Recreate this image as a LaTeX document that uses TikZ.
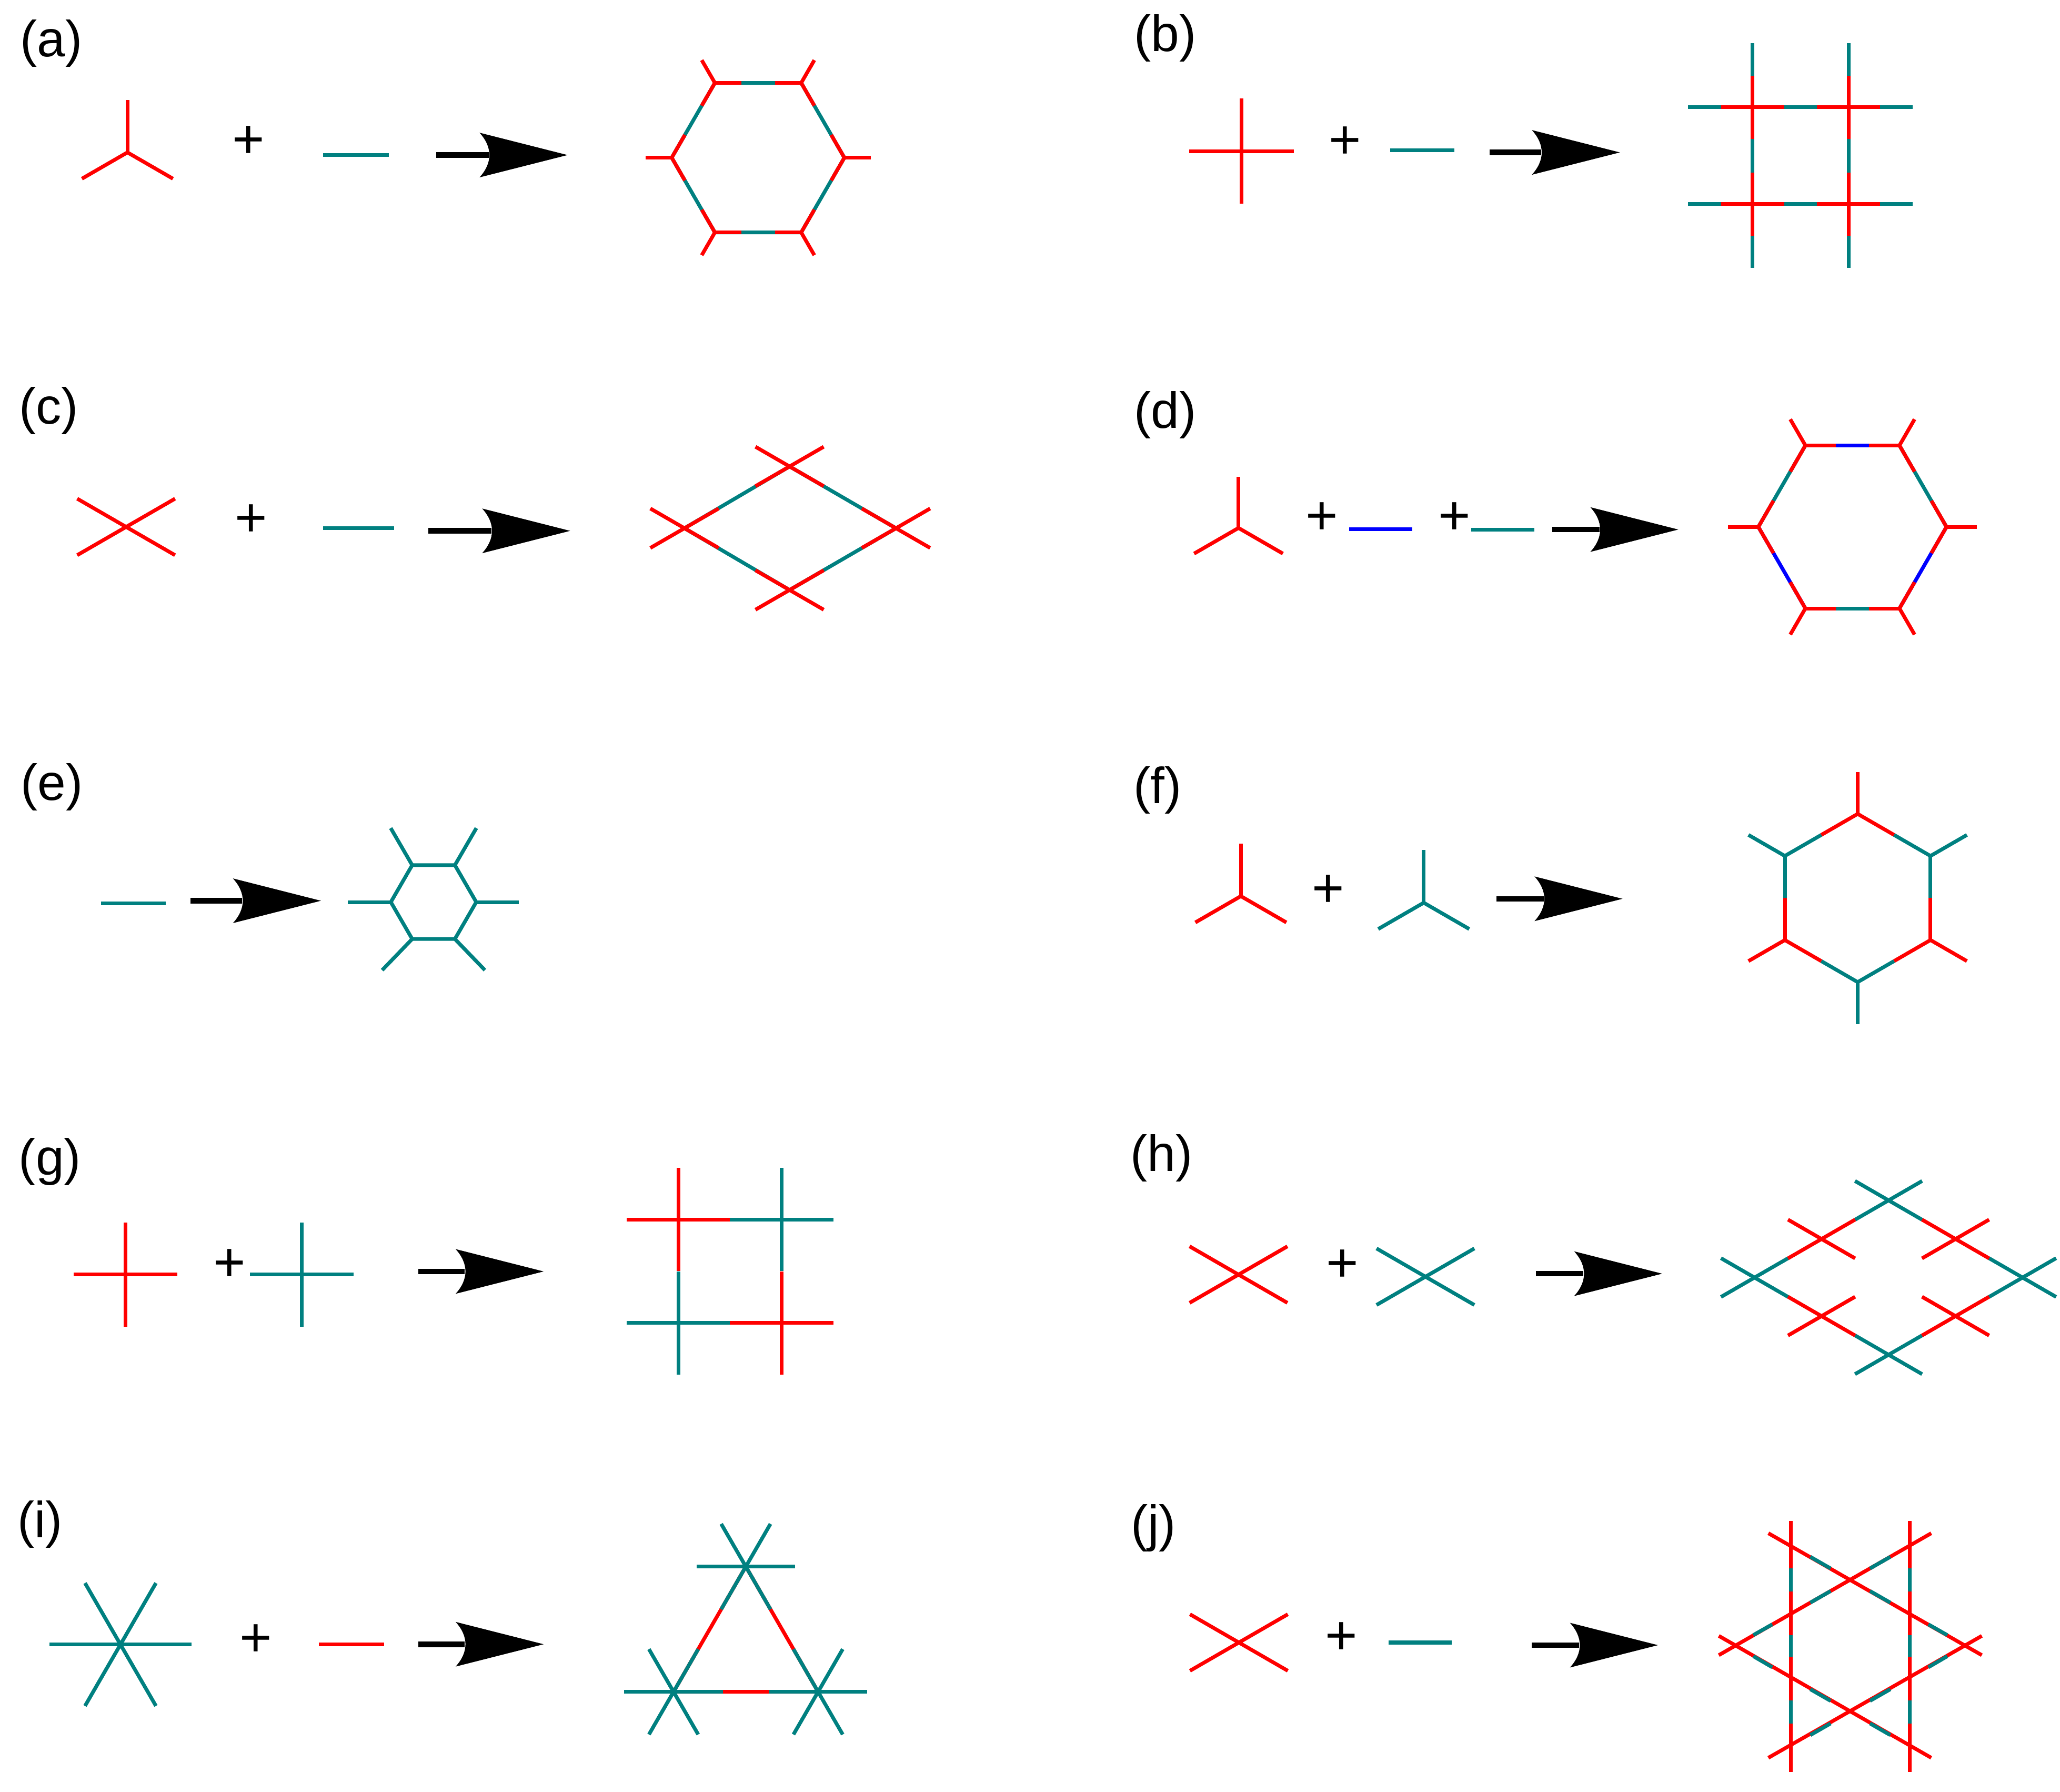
\documentclass[tikz,border=0pt]{standalone}
\usepackage{fontspec}
\setmainfont{Liberation Sans}
\usetikzlibrary{calc}
\definecolor{tl}{RGB}{0,128,128}
\definecolor{rd}{RGB}{255,0,0}
\definecolor{bl}{RGB}{0,0,255}
\tikzset{
  rd/.style={draw=rd,line width=0.8pt},
  tl/.style={draw=tl,line width=0.8pt},
  bl/.style={draw=bl,line width=0.8pt},
  lab/.style={font=\fontsize{11}{13}\selectfont,inner sep=0pt},
  pl/.style={font=\fontsize{12}{12}\selectfont,inner sep=0pt}
}
\newcommand\mytri[4]{\foreach \t in {0,120,240}{\draw[#4] (#1) -- ++({#2+\t}:#3);}}
\newcommand\mycross[3]{\foreach \t in {0,90,180,270}{\draw[#3] (#1) -- ++(\t:#2);}}
\newcommand\myX[3]{\foreach \t in {30,150,210,330}{\draw[#3] (#1) -- ++(\t:#2);}}
\newcommand\mysix[3]{\foreach \t in {0,60,...,300}{\draw[#3] (#1) -- ++(\t:#2);}}
\newcommand\myarrow[3]{\draw[line width=1.2pt] (#1,#3) -- (#2-60,#3);
  \fill (#2,#3) -- (#2-67,#3-17) .. controls (#2-57,#3-6) and (#2-57,#3+6) .. (#2-67,#3+17) -- cycle;}
\newcommand\tseg[2]{\draw[tl] ($(#1)!.33!(#2)$) -- ($(#1)!.67!(#2)$);}
\begin{document}
\begin{tikzpicture}[x=0.01cm,y=-0.01cm]
\useasboundingbox (0,0) rectangle (1568,1363.4);
% labels
\node[lab] (la) at (39,33) {(a)};
\node[lab] (lb) at (887,29) {(b)};
\node[lab] (lc) at (37,312.5) {(c)};
\node[lab] (ld) at (887,316) {(d)};
\node[lab] (le) at (39.5,599) {(e)};
\node[lab] (lf) at (881,601.5) {(f)};
\node[lab] (lg) at (38,884) {(g)};
\node[lab] (lh) at (884,881.5) {(h)};
\node[lab] (li) at (30.5,1160) {(i)};
\node[lab] (lj) at (878,1163) {(j)};
% plus signs
\node[pl] (pa) at (189,108) {+};
\node[pl] (pb) at (1024,108.6) {+};
\node[pl] (pc) at (191,396) {+};
\node[pl] (pd1) at (1006,394.6) {+};
\node[pl] (pd2) at (1107,394.6) {+};
\node[pl] (pf) at (1010.8,678) {+};
\node[pl] (pg) at (174.6,963) {+};
\node[pl] (ph) at (1021.7,963.4) {+};
\node[pl] (pi) at (194.7,1248.3) {+};
\node[pl] (pj) at (1021,1247) {+};
% ---------- (a)
\mytri{97,116}{-90}{40}{rd}
\draw[tl] (246,118) -- (296,118);
\myarrow{332}{432}{118}
\begin{scope}[shift={(577,120)}]
  \draw[tl] (0:65.7) -- (60:65.7) -- (120:65.7) -- (180:65.7) -- (240:65.7) -- (300:65.7) -- cycle;
  \foreach \a in {0,60,...,300}{\mytri{\a:65.7}{\a}{20}{rd}}
\end{scope}
% ---------- (b)
\mycross{945,115}{40}{rd}
\draw[tl] (1058,114.5) -- (1107,114.5);
\myarrow{1134}{1233}{116}
\draw[tl] (1285,81.7) -- (1456,81.7);
\draw[tl] (1285,155.3) -- (1456,155.3);
\draw[tl] (1334,32.8) -- (1334,204);
\draw[tl] (1407,32.8) -- (1407,204);
\mycross{1334,81.7}{24}{rd}
\mycross{1407,81.7}{24}{rd}
\mycross{1334,155.3}{24}{rd}
\mycross{1407,155.3}{24}{rd}
% ---------- (c)
\myX{96,401}{43}{rd}
\draw[tl] (246,402) -- (300,402);
\myarrow{326}{434}{404}
\draw[tl] (521,402) -- (601,355) -- (682,402) -- (601,449) -- cycle;
\myX{521,402}{30}{rd}
\myX{601,355}{30}{rd}
\myX{682,402}{30}{rd}
\myX{601,449}{30}{rd}
% ---------- (d)
\mytri{942.7,401.8}{-90}{39}{rd}
\draw[bl] (1027,402.8) -- (1075,402.8);
\draw[tl] (1120,403) -- (1168,403);
\myarrow{1181.5}{1277.5}{403}
\begin{scope}[shift={(1410,401)}]
  \draw[bl] (0:71.6) -- (60:71.6);
  \draw[tl] (60:71.6) -- (120:71.6);
  \draw[bl] (120:71.6) -- (180:71.6);
  \draw[tl] (180:71.6) -- (240:71.6);
  \draw[bl] (240:71.6) -- (300:71.6);
  \draw[tl] (300:71.6) -- (360:71.6);
  \foreach \a in {0,60,...,300}{\mytri{\a:71.6}{\a}{23}{rd}}
\end{scope}
% ---------- (e)
\draw[tl] (76.8,687.5) -- (126.2,687.5);
\myarrow{145}{244.3}{685.5}
\draw[tl] (297.5,686.5) -- (313.75,658.4) -- (346.25,658.4) -- (362.5,686.5) -- (346.25,714.6) -- (313.75,714.6) -- cycle;
\draw[tl] (297.5,686.5) -- (264.9,686.5);
\draw[tl] (362.5,686.5) -- (395,686.5);
\draw[tl] (313.75,658.4) -- (297.4,630.2);
\draw[tl] (346.25,658.4) -- (362.6,630.2);
\draw[tl] (313.75,714.6) -- (290.9,738.3);
\draw[tl] (346.25,714.6) -- (369.1,738.3);
% ---------- (f)
\mytri{944.5,682}{-90}{40}{rd}
\mytri{1083.7,687}{-90}{40}{tl}
\myarrow{1139}{1235}{684}
\begin{scope}[shift={(1414,683.4)}]
  \mytri{-90:64}{-90}{32}{rd}
  \mytri{-30:64}{-30}{32}{tl}
  \mytri{30:64}{30}{32}{rd}
  \mytri{90:64}{90}{32}{tl}
  \mytri{150:64}{150}{32}{rd}
  \mytri{210:64}{210}{32}{tl}
\end{scope}
% ---------- (g)
\mycross{95.6,970}{39.5}{rd}
\mycross{229.6,970}{39.5}{tl}
\myarrow{318.6}{413.8}{967.6}
\mycross{516.4,928.1}{39.3}{rd}
\mycross{595,928.1}{39.3}{tl}
\mycross{516.4,1006.8}{39.3}{tl}
\mycross{595,1006.8}{39.3}{rd}
% ---------- (h)
\myX{942.7,970}{43}{rd}
\myX{1085,971.6}{43}{tl}
\myarrow{1169}{1265.2}{969.3}
\myX{1437.5,913.5}{29.5}{tl}
\myX{1437.5,1031}{29.5}{tl}
\myX{1335.5,972.25}{29.5}{tl}
\myX{1539.5,972.25}{29.5}{tl}
\myX{1386.5,942.9}{29.5}{rd}
\myX{1488.5,942.9}{29.5}{rd}
\myX{1386.5,1001.6}{29.5}{rd}
\myX{1488.5,1001.6}{29.5}{rd}
% ---------- (i)
\mysix{91.7,1251.5}{54}{tl}
\draw[rd] (242.7,1251.5) -- (292.5,1251.5);
\myarrow{318.6}{413.8}{1251.3}
\draw[rd] (567.7,1192.2) -- (512.7,1287.5) -- (622.7,1287.5) -- cycle;
\mysix{567.7,1192.2}{37.5}{tl}
\mysix{512.7,1287.5}{37.5}{tl}
\mysix{622.7,1287.5}{37.5}{tl}
% ---------- (j)
\myX{943,1250}{43}{rd}
\draw[tl] (1057,1250) -- (1105,1250);
\myarrow{1166}{1262}{1252}
\begin{scope}[shift={(1293.66,1145.47)},xscale=0.1540,yscale=0.1335]
  \draw[rd] (340,160) -- (1395,855);
  \draw[rd] (1145,160) -- (95,855);
  \draw[rd] (95,745) -- (1145,1440);
  \draw[rd] (1395,745) -- (340,1440);
  \draw[rd] (450,90) -- (450,1520);
  \draw[rd] (1040,90) -- (1040,1520);
  \tseg{450,230}{745,425}\tseg{745,425}{1040,620}\tseg{1040,620}{1315,800}
  \tseg{1040,230}{745,425}\tseg{745,425}{450,620}\tseg{450,620}{175,800}
  \tseg{175,800}{450,985}\tseg{450,985}{745,1180}\tseg{745,1180}{1040,1375}
  \tseg{1315,800}{1040,985}\tseg{1040,985}{745,1180}\tseg{745,1180}{450,1375}
  \tseg{450,230}{450,620}\tseg{450,620}{450,985}\tseg{450,985}{450,1375}
  \tseg{1040,230}{1040,620}\tseg{1040,620}{1040,985}\tseg{1040,985}{1040,1375}
\end{scope}
\end{tikzpicture}
\end{document}
